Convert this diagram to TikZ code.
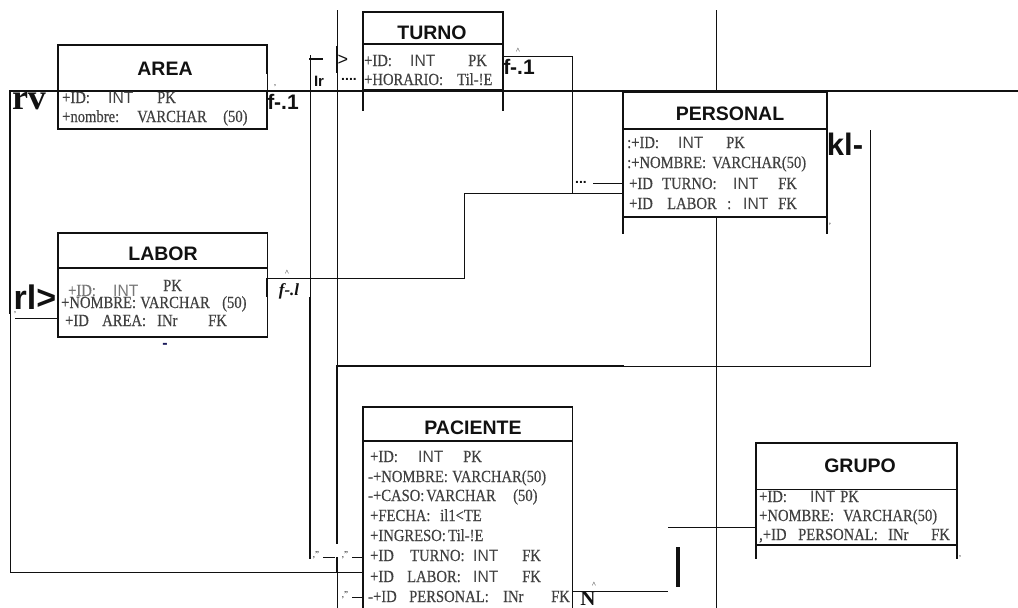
\documentclass[tikz,border=0pt]{standalone}
\usepackage{fontspec}
\setmainfont{Liberation Serif}
\newfontfamily\hsans{Liberation Sans}
\newfontfamily\rowfont[FakeStretch=0.86,FakeBold=0.4]{Liberation Serif}
\newfontfamily\rowsans[FakeStretch=0.95]{Liberation Sans}
\definecolor{rowtxt}{HTML}{404040}
\definecolor{rowlight}{HTML}{777777}
\definecolor{navy}{HTML}{1A1A5A}
\definecolor{ink}{HTML}{111111}
\newcommand\tcol[2]{\makebox[#1pt][l]{#2}}
\newcommand\sint{{\rowsans\fontsize{16.5}{18}\selectfont INT}}
\begin{document}
\begin{tikzpicture}[x=1pt,y=-1pt,
  ebox/.style={draw=none, fill=white, inner sep=0pt, outer sep=0pt, anchor=north west},
  thk/.style={draw=ink, line width=2.8pt, line cap=rect},
  med/.style={draw=ink, line width=1.8pt},
  thn/.style={draw=ink, line width=0.9pt},
  hdr/.style={font=\hsans\bfseries\fontsize{19.5}{22}\selectfont, text=ink, inner sep=0pt, anchor=base},
  row/.style={font=\rowfont\fontsize{17}{19}\selectfont, text=rowtxt, inner sep=0pt, anchor=base west},
  lbl/.style={font=\hsans\bfseries, text=ink, inner sep=0pt},
  tiny/.style={font=\fontsize{8}{9}\selectfont, text=ink, inner sep=0pt},
  bar/.style={draw=ink, line width=4pt}
]
\useasboundingbox (0,0) rectangle (1018,608);
\fill[white] (0,0) rectangle (1018,608);

% background long verticals
\coordinate (v1t) at (337,10);
\coordinate (v1a) at (337,366);
\coordinate (v1b) at (337,543);
\coordinate (v1c) at (337,558);
\coordinate (v1d) at (337,572);
\coordinate (v1e) at (337,608);
\coordinate (v2t) at (716,10);
\coordinate (v2b) at (716,608);
\draw[thn] (v2t) -- (v2b);
\draw[thn] (v1t) -- (v1a);
\draw[thn] (v1d) -- (v1e);

% boxes
\node[ebox, minimum width=209pt, minimum height=84pt] (area) at (58,45) {};
\node[ebox, minimum width=140pt, minimum height=78pt] (turno) at (363,12) {};
\node[ebox, minimum width=204pt, minimum height=125pt] (personal) at (623,92) {};
\node[ebox, minimum width=209pt, minimum height=104pt] (labor) at (58,233) {};
\node[ebox, minimum width=209pt, minimum height=205pt] (paciente) at (363,407) {};
\node[ebox, minimum width=201pt, minimum height=102pt] (grupo) at (756,443) {};

% AREA borders
\draw[thk] (area.south west) -- (area.north west) -- (area.north east);
\draw[thk] (area.south west) -- (area.south east);
\draw[thk] (area.north east) -- (area.east |- 0,73);
\draw[thn] (area.east |- 0,73) -- (area.south east);
\draw[thk] (area.east |- 0,91) -- (area.south east);
% TURNO borders
\draw[thk] (turno.west |- 0,110) -- (turno.north west) -- (turno.north east) -- (turno.east |- 0,110);
\draw[thk] (turno.west |- 0,44) -- (turno.east |- 0,44);
\draw[thk] (turno.south west) -- (turno.south east);
% PERSONAL borders
\draw[thk] (personal.west |- 0,233) -- (personal.north west) -- (personal.north east) -- (personal.east |- 0,233);
\draw[thk] (personal.west |- 0,129) -- (personal.east |- 0,129);
\draw[thk] (personal.south west) -- (personal.south east);
% LABOR borders
\draw[thk] (labor.south west) -- (labor.north west) -- (labor.north east);
\draw[thk] (labor.west |- 0,268) -- (labor.east |- 0,268);
\draw[thk] (labor.south west) -- (labor.south east);
\draw[thn] (labor.north east) -- (labor.south east);
\draw[thk] (labor.east |- 0,279) -- (labor.east |- 0,296);
% PACIENTE borders
\draw[thk] (paciente.south west) -- (paciente.north west) -- (paciente.north east);
\draw[thk] (paciente.west |- 0,441) -- (paciente.east |- 0,441);
\draw[thn] (paciente.north east) -- (paciente.south east);
% GRUPO borders
\draw[med] (grupo.west |- 0,468) -- (grupo.north west) -- (grupo.north east) -- (grupo.east |- 0,468);
\draw[thk] (grupo.west |- 0,468) -- (grupo.west |- 0,558);
\draw[thk] (grupo.east |- 0,468) -- (grupo.east |- 0,558);
\draw[thn] (grupo.west |- 0,489) -- (grupo.east |- 0,489);
\draw[thk] (grupo.south west) -- (grupo.south east);

% long horizontal and left frame
\coordinate (L1) at (10,91);
\coordinate (L2) at (10,313);
\coordinate (L3) at (10,572);
\coordinate (Rend) at (1018,91);
\draw[med] (L1) -- (Rend);
\draw[thk] (area.west |- L1) -- (L1) -- (L2);
\draw[thn] (L2) -- (L3) -- (paciente.west |- L3);
\coordinate (lb1) at (15,318);
\draw[thn] (lb1) -- (labor.west |- lb1);

% vertical x=310
\coordinate (v3t) at (310,55);
\coordinate (v3m) at (310,298);
\coordinate (v3b) at (310,558);
\coordinate (v3k) at (322,59);
\draw[thn] (v3t) -- (v3m);
\draw[thk] (v3m) -- (v3b);
\draw[thk] (v3t |- v3k) -- (v3k);

% vertical x=337 thick parts and link to PERSONAL side
\coordinate (h1e) at (623,366);
\coordinate (r870) at (870,366);
\coordinate (r870t) at (870,130);
\draw[thk] (v1b) -- (v1a) -- (h1e);
\draw[thn] (h1e) -- (r870) -- (r870t);
\draw[thk] (v1c) -- (v1d);
\coordinate (tb1) at (337,47);
\coordinate (tb2) at (337,72);
\draw[thk] (tb1) -- (tb2);

% TURNO -> PERSONAL, LABOR -> PERSONAL
\coordinate (t1) at (572,56);
\coordinate (t2) at (572,193);
\coordinate (t3) at (464,193);
\coordinate (t4) at (464,278);
\coordinate (t5) at (593,183);
\draw[thn] (turno.east |- t1) -- (t1) -- (t2);
\draw[thn] (t3) -- (personal.west |- t3);
\draw[thn] (labor.east |- t4) -- (t4) -- (t3);
\draw[thn] (t5) -- (personal.west |- t5);

% PACIENTE side links
\coordinate (pa1) at (323,557);
\coordinate (pa2) at (335,557);
\coordinate (pa3) at (352,557);
\coordinate (pa4) at (352,597);
\draw[thn] (pa1) -- (pa2);
\draw[thn] (pa3) -- (paciente.west |- pa3);
\draw[thn] (pa4) -- (paciente.west |- pa4);
\coordinate (pr1) at (668,591);
\coordinate (gr1) at (668,527);
\draw[thn] (paciente.east |- pr1) -- (pr1);
\draw[thn] (gr1) -- (grupo.west |- gr1);
\coordinate (bb1) at (678,547);
\coordinate (bb2) at (678,587);
\draw[bar] (bb1) -- (bb2);

% headers
\node[hdr] (areaH) at (165,75) {AREA};
\node[hdr] (turnoH) at (432,39) {TURNO};
\node[hdr] (personalH) at (730,120) {PERSONAL};
\node[hdr] (laborH) at (163,260) {LABOR};
\node[hdr] (pacienteH) at (473,434) {PACIENTE};
\node[hdr] (grupoH) at (860,472) {GRUPO};

% rows
\node[row] (ar1) at (62,103) {\tcol{46}{+ID:}\tcol{49}{\sint}PK};
\node[row] (ar2) at (62,122) {\tcol{75}{+nombre:}\tcol{86}{VARCHAR}(50)};

\node[row] (tr1) at (364,66) {\tcol{46}{+ID:}\tcol{58}{\sint}PK};
\node[row] (tr2) at (364,85) {\tcol{93}{+HORARIO:}Til-!E};

\node[row] (pr1n) at (627,148) {\tcol{51}{:+ID:}\tcol{48}{\sint}PK};
\node[row] (pr2n) at (627,168) {\tcol{85}{:+NOMBRE:}VARCHAR(50)};
\node[row] (pr3n) at (629,189) {\tcol{33}{+ID}\tcol{71}{TURNO:}\tcol{45}{\sint}FK};
\node[row] (pr4n) at (629,209) {\tcol{38}{+ID}\tcol{60}{LABOR}\tcol{16}{:}\tcol{35}{\sint}FK};

\node[row, text=rowlight] (lr1a) at (68,296) {\tcol{45}{+ID:}\sint};
\node[row] (lr1b) at (163,291) {PK};
\node[row] (lr2) at (61,308) {\tcol{79}{+NOMBRE:}\tcol{82}{VARCHAR}(50)};
\node[row] (lr3) at (65,326) {\tcol{37}{+ID}\tcol{55}{AREA:}\tcol{51}{INr}FK};

\node[row] (p1) at (370,462) {\tcol{48}{+ID:}\tcol{45}{\sint}PK};
\node[row] (p2) at (368,482) {\tcol{84}{-+NOMBRE:}VARCHAR(50)};
\node[row] (p3) at (368,501) {\tcol{58}{-+CASO:}\tcol{87}{VARCHAR}(50)};
\node[row] (p4) at (370,521) {\tcol{70}{+FECHA:}il1<TE};
\node[row] (p5) at (370,541) {\tcol{78}{+INGRESO:}Til-!E};
\node[row] (p6) at (370,561) {\tcol{40}{+ID}\tcol{63}{TURNO:}\tcol{49}{\sint}FK};
\node[row] (p7) at (370,582) {\tcol{37}{+ID}\tcol{66}{LABOR:}\tcol{49}{\sint}FK};
\node[row] (p8) at (368,602) {\tcol{41}{-+ID}\tcol{94}{PERSONAL:}\tcol{48}{INr}FK};

\node[row] (g1) at (759,502) {\tcol{51}{+ID:}\tcol{30}{\sint}PK};
\node[row] (g2) at (759,521) {\tcol{84}{+NOMBRE:}VARCHAR(50)};
\node[row] (g3) at (759,540) {\tcol{39}{,+ID}\tcol{90}{PERSONAL:}\tcol{43}{INr}FK};

% stray labels
\node[font=\bfseries\fontsize{36}{40}\selectfont, text=ink, inner sep=0pt] (rv) at (29,101) {rv};
\node[lbl, font=\hsans\bfseries\fontsize{34}{38}\selectfont] (rl) at (35,297) {rl>};
\node[lbl, font=\hsans\bfseries\fontsize{31}{34}\selectfont] (kl) at (845,144) {kl-};
\node[lbl, font=\hsans\bfseries\fontsize{21}{24}\selectfont] (fa) at (283,102) {f-.1};
\node[lbl, font=\hsans\bfseries\fontsize{21}{24}\selectfont] (ft) at (519,67) {f-.1};
\node[font=\bfseries\itshape\fontsize{17}{19}\selectfont, text=ink, inner sep=0pt] (fl) at (289,291) {f-.l};
\node[lbl, font=\hsans\bfseries\fontsize{15}{17}\selectfont] (ir) at (319,81) {Ir};
\node[font=\bfseries\fontsize{21}{24}\selectfont, text=ink, inner sep=0pt, anchor=base] (nn) at (588,605) {N};
\node[lbl, font=\hsans\fontsize{18}{20}\selectfont] (gt) at (343,60) {>};
\node[lbl, font=\hsans\bfseries\fontsize{14}{16}\selectfont, anchor=base] (dots1) at (349,80) {....};
\node[lbl, font=\hsans\bfseries\fontsize{14}{16}\selectfont, anchor=base] (dots2) at (581,183) {...};
\node[tiny] (c1) at (518,51) {\textasciicircum};
\node[tiny] (c2) at (287,273) {\textasciicircum};
\node[tiny] (c3) at (594,585) {\textasciicircum};
\node[tiny] (q1) at (275,86) {,};
\node[tiny] (q2) at (830,226) {'};
\node[tiny] (q3) at (960,557) {,};
\node[tiny] (q4) at (15,313) {,};
\node[tiny, font=\fontsize{9}{10}\selectfont] (m1) at (316,555) {,''};
\node[tiny, font=\fontsize{9}{10}\selectfont] (m2) at (345,555) {,''};
\node[tiny, font=\fontsize{9}{10}\selectfont] (m3) at (345,595) {,''};
\node[font=\hsans\bfseries\fontsize{16}{18}\selectfont, text=navy, inner sep=0pt] (dash) at (165,346) {-};
\end{tikzpicture}
\end{document}
